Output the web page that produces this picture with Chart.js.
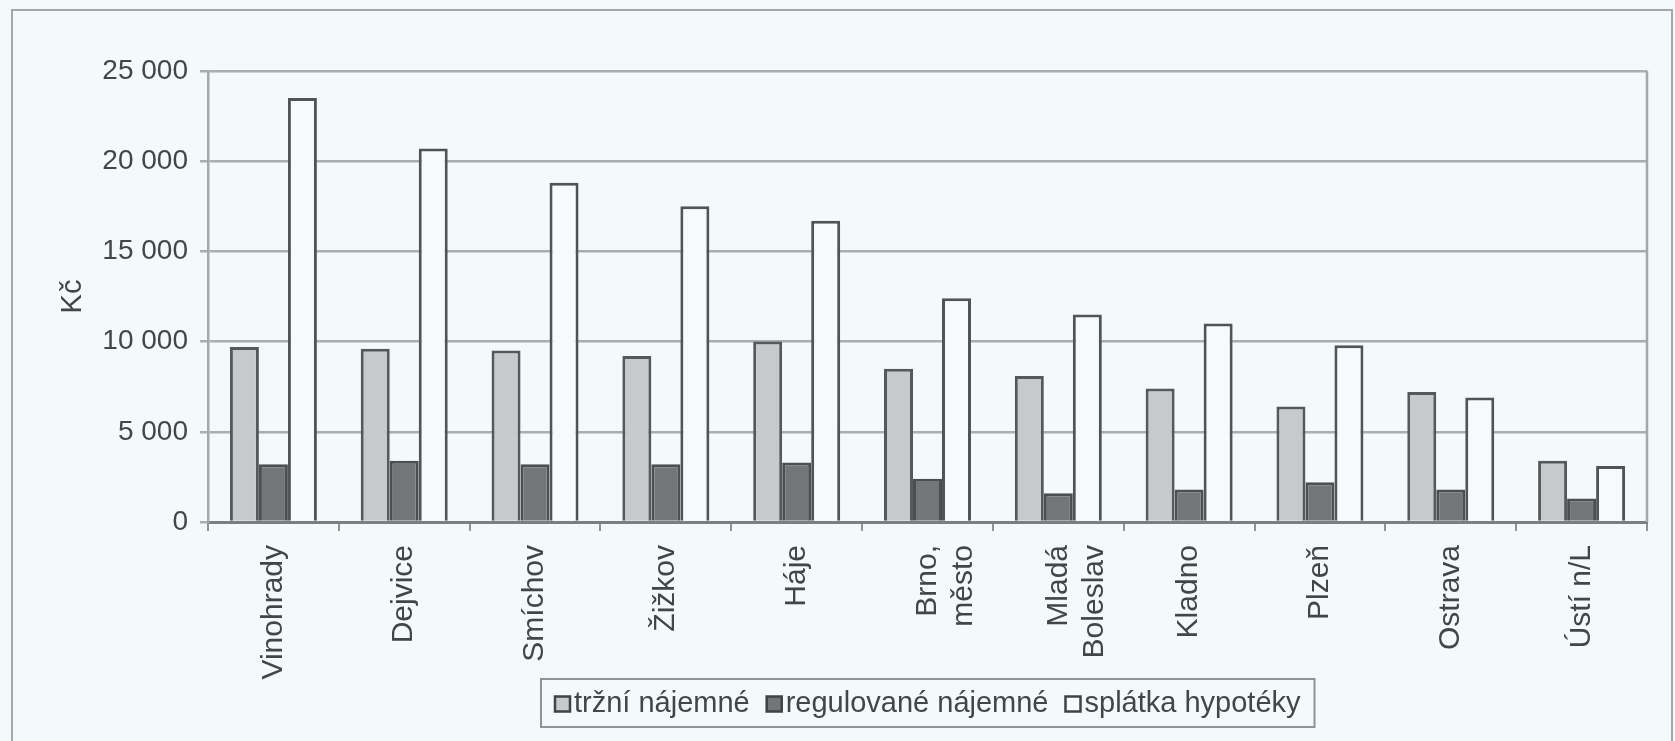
<!DOCTYPE html>
<html lang="cs">
<head>
<meta charset="utf-8">
<title>Nájemné a splátka hypotéky</title>
<script src="https://cdn.jsdelivr.net/npm/chart.js@4/dist/chart.umd.min.js"></script>
<style>
  html, body { margin: 0; padding: 0; background: #f4f9fb; }
  #graf { display: block; }
</style>
</head>
<body>
<canvas id="graf" width="1675" height="741"></canvas>
<script>
// Lokality
const mista = [
  "Vinohrady", "Dejvice", "Smíchov", "Žižkov", "Háje",
  ["Brno,", "město"], ["Mladá", "Boleslav"], "Kladno", "Plzeň", "Ostrava", "Ústí n/L"
];

// Měsíční náklady v Kč
const trzniNajemne = [9700, 9600, 9500, 9200, 10000, 8500, 8100, 7400, 6400, 7200, 3400];
const regulovaneNajemne = [3200, 3400, 3200, 3200, 3300, 2400, 1600, 1800, 2200, 1800, 1300];
const splatkaHypoteky = [23500, 20700, 18800, 17500, 16700, 12400, 11500, 11000, 9800, 6900, 3100];

const nazvyRad = ["tržní nájemné", "regulované nájemné", "splátka hypotéky"];
const osaY = { min: 0, max: 25000, krok: 5000, nazev: "Kč" };

const PISMO = "'Liberation Sans', Arial, sans-serif";
const TEXT = "#434648";

// tisíce oddělené mezerou: 25 000
const formatCislo = (v) => String(v).replace(/\B(?=(\d{3})+(?!\d))/g, " ");

// rámeček kolem grafu, pravý okraj plochy a legenda v rámečku
const ramecekALegenda = {
  id: "ramecekALegenda",
  beforeDraw(chart) {
    const ctx = chart.ctx;
    ctx.save();
    ctx.fillStyle = "#f4f9fb";
    ctx.fillRect(0, 0, chart.width, chart.height);
    ctx.strokeStyle = "#a3a8ab";
    ctx.lineWidth = 2;
    ctx.strokeRect(12, 10, chart.width - 15, chart.height + 10);
    ctx.restore();
  },
  afterDraw(chart) {
    const ctx = chart.ctx;
    const a = chart.chartArea;
    ctx.save();
    ctx.strokeStyle = "#a3a8ab";
    ctx.lineWidth = 2.5;
    ctx.beginPath();
    ctx.moveTo(a.right, a.top);
    ctx.lineTo(a.right, a.bottom);
    ctx.stroke();

    // legenda
    ctx.font = "29px " + PISMO;
    const ctverec = 15, mezera = 4, odstup = 17, okraj = 14;
    const polozky = chart.data.datasets.map(ds => ({
      text: ds.label, barva: ds.backgroundColor,
      sirka: ctx.measureText(ds.label).width
    }));
    let celkem = okraj * 2 + odstup * (polozky.length - 1);
    polozky.forEach(p => { celkem += ctverec + mezera + p.sirka; });
    const x0 = Math.round((a.left + a.right) / 2 - celkem / 2);
    const y0 = 679, vyska = 48;
    ctx.strokeStyle = "#8e9396";
    ctx.lineWidth = 2;
    ctx.strokeRect(x0, y0, celkem, vyska);
    const stred = y0 + vyska / 2 + 1;
    let x = x0 + okraj;
    ctx.textBaseline = "middle";
    ctx.textAlign = "left";
    polozky.forEach(p => {
      ctx.fillStyle = p.barva;
      ctx.fillRect(x, stred - ctverec / 2, ctverec, ctverec);
      ctx.strokeStyle = "#3f4346";
      ctx.lineWidth = 2.5;
      ctx.strokeRect(x, stred - ctverec / 2, ctverec, ctverec);
      x += ctverec + mezera;
      ctx.fillStyle = TEXT;
      ctx.fillText(p.text, x, stred);
      x += p.sirka + odstup;
    });
    ctx.restore();
  }
};

const radaSloupcu = (nazev, data, vypln, okraj) => ({
  label: nazev,
  data: data,
  backgroundColor: vypln,
  borderColor: okraj,
  borderWidth: 3,
  barPercentage: 1,
  categoryPercentage: 0.665
});

new Chart(document.getElementById("graf"), {
  type: "bar",
  data: {
    labels: mista,
    datasets: [
      radaSloupcu(nazvyRad[0], trzniNajemne, "#c6cacd", "#55595c"),
      radaSloupcu(nazvyRad[1], regulovaneNajemne, "#727679", "#4b4f52"),
      radaSloupcu(nazvyRad[2], splatkaHypoteky, "#f6fafc", "#505457")
    ]
  },
  options: {
    responsive: false,
    animation: false,
    layout: { padding: { left: 40, right: 28, top: 71, bottom: 39 } },
    plugins: {
      legend: { display: false },
      tooltip: { enabled: false }
    },
    scales: {
      x: {
        offset: true,
        grid: {
          offset: true,
          drawOnChartArea: false,
          drawTicks: true,
          tickLength: 9,
          color: "#8e9396",
          lineWidth: 2
        },
        border: { color: "#7b7f82", width: 3 },
        ticks: {
          minRotation: 90,
          maxRotation: 90,
          autoSkip: false,
          padding: 14,
          color: TEXT,
          font: { family: PISMO, size: 30 }
        },
        afterFit(scale) { scale.height = 180; }
      },
      y: {
        min: osaY.min,
        max: osaY.max,
        grid: {
          color: "#a9aeb1",
          lineWidth: 2.5,
          tickLength: 8
        },
        border: { color: "#a3a8ab", width: 2.5 },
        ticks: {
          stepSize: osaY.krok,
          padding: 12,
          color: TEXT,
          font: { family: PISMO, size: 28 },
          callback: (v) => formatCislo(v)
        },
        title: {
          display: true,
          text: osaY.nazev,
          color: TEXT,
          font: { family: PISMO, size: 29 },
          padding: { top: 16, bottom: 0 }
        },
        afterFit(scale) { scale.width = 168; }
      }
    }
  },
  plugins: [ramecekALegenda]
});
</script>
</body>
</html>
